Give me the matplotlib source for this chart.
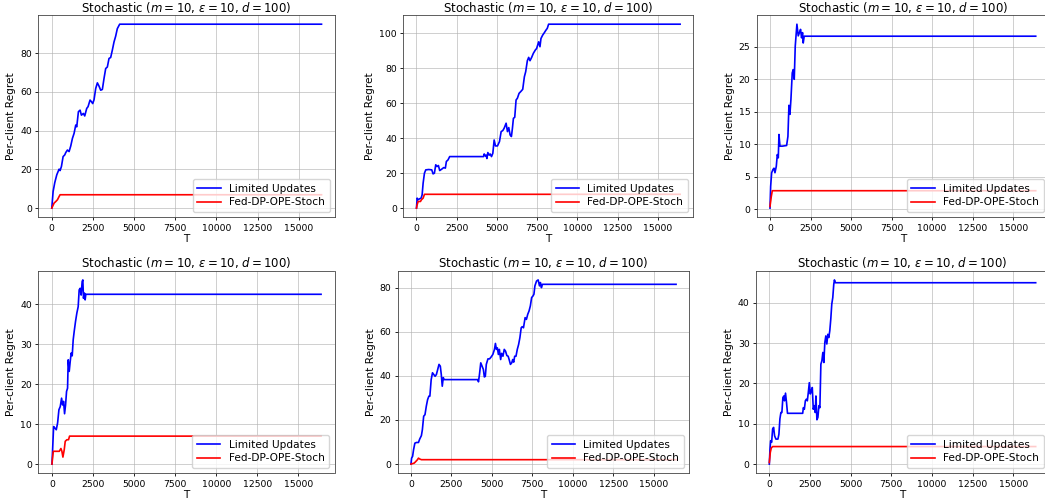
import matplotlib
matplotlib.use("Agg")
import matplotlib.pyplot as plt

T_END = 16384
title = r"Stochastic ($m=10$, $\varepsilon=10$, $d=100$)"

# knots (T, per-client regret); each curve stays flat to T_END
lu1_t = [0, 81, 182, 303, 384, 445, 505, 586, 687, 788, 849, 950, 1051, 1152, 1253, 1354, 1455, 1516,
         1617, 1718, 1799, 1920, 2001, 2122, 2203, 2324, 2405, 2486, 2567, 2668, 2769, 2870, 2971, 3072,
         3173, 3274, 3375, 3476, 3577, 3678, 3779, 3880, 3981, 4123]
lu1_y = [0, 8.6, 13.2, 17.2, 18.9, 20.1, 19.4, 21.5, 26.6, 27.5, 28.7, 30, 29.2, 32.1, 36, 38.6, 42.9, 42,
         49.8, 50.6, 48, 48.9, 47.6, 51.5, 52.4, 55.8, 55, 54, 56, 61.8, 64.7, 63, 60.9, 61.3,
         67, 72.1, 72.9, 77.3, 77.8, 81.6, 85.8, 88.8, 92.7, 95]
fed1_t = [0, 141, 243, 344, 445, 505]
fed1_y = [0, 2.6, 3.4, 4.3, 6.0, 6.9]

lu2_t = [0, 41, 103, 186, 289, 351, 413, 495, 578, 763, 949, 1032, 1114, 1197, 1279, 1362, 1444, 1568,
         1692, 1795, 1857, 1960, 2063, 4167, 4208, 4270, 4332, 4374, 4435, 4518, 4580, 4662, 4745, 4827,
         4910, 5034, 5158, 5261, 5364, 5446, 5570, 5653, 5735, 5818, 5900, 5962, 6024, 6106, 6189, 6271,
         6374, 6478, 6602, 6705, 6787, 6890, 6973, 7055, 7158, 7262, 7385, 7468, 7530, 7592, 7674, 7736,
         7839, 7943, 8046, 8128, 8211]
lu2_y = [0, 5.7, 4.8, 5.3, 5.7, 7.6, 14.3, 20, 21.9, 22.1, 21.9, 19.6, 20, 24.8, 23.8, 24.4, 21.5, 22.3,
         23.2, 22.9, 26.7, 27.6, 29.5, 29.5, 31, 29.9, 30.3, 28.4, 31.8, 30.3, 31, 29.5, 31.4, 39,
         35.6, 35.6, 38.1, 43.8, 44.4, 45.7, 48.6, 43.8, 46.1, 41.9, 41, 45.7, 51.4, 52, 61.9, 62.9,
         65.7, 66.7, 68, 75.2, 78.1, 84.4, 86.3, 84.4, 86.3, 88.6, 90.5, 91.4, 93.3, 95.2, 92.4, 97.1,
         99, 100.4, 101.9, 102.9, 105.3]
fed2_t = [0, 41, 103, 248, 310, 413, 495]
fed2_y = [0, 1.9, 3.8, 3.8, 4.8, 5.7, 7.9]

lu3_t = [0, 41, 102, 184, 246, 307, 389, 451, 512, 553, 615, 758, 1025, 1106, 1168, 1229, 1291, 1373,
         1434, 1496, 1557, 1660, 1742, 1844, 1885, 1947, 2008, 2049, 2110]
lu3_y = [0.15, 3.5, 5.6, 6.1, 6.3, 5.6, 6.6, 8.4, 7.9, 11.5, 9.7, 9.7, 9.8, 11.2, 16, 14.6, 16.9, 21,
         21.5, 20, 25.1, 28.5, 26.7, 27.4, 27.7, 26.4, 27.2, 25.6, 26.65]
fed3_t = [0, 82, 143]
fed3_y = [0.4, 1.96, 2.83]

lu4_t = [0, 40, 101, 182, 263, 344, 424, 505, 586, 647, 707, 768, 829, 889, 950, 990, 1051, 1112, 1172,
         1233, 1293, 1354, 1435, 1516, 1597, 1657, 1718, 1779, 1839, 1880, 1920, 1981, 2021, 2061]
lu4_y = [0, 3.6, 9.4, 9, 8.6, 10.3, 13.6, 14.4, 16.5, 14.8, 15.7, 12.6, 14.8, 18.2, 19, 26.1, 23.2, 25.7,
         27.8, 27.1, 31.1, 33.2, 35.7, 37.8, 39.4, 43.6, 44, 42.3, 45.7, 46.1, 41.5, 42.8, 41.1, 42.5]
fed4_t = [0, 81, 445, 546, 606, 667, 748, 808, 909, 1010, 1071]
fed4_y = [0, 3.2, 3.2, 3.9, 3.2, 1.75, 3.6, 5.7, 6.1, 6.1, 7.0]

lu5_t = [0, 40, 101, 161, 242, 343, 464, 544, 645, 706, 786, 867, 948, 1028, 1109, 1169, 1250, 1331,
         1411, 1492, 1572, 1653, 1734, 1814, 1875, 1935, 1996, 2056, 4133, 4173, 4234, 4314, 4395, 4476,
         4536, 4596, 4657, 4758, 4859, 4959, 5060, 5161, 5221, 5282, 5342, 5403, 5463, 5544, 5604, 5685,
         5766, 5846, 5927, 6008, 6068, 6149, 6229, 6290, 6350, 6411, 6491, 6572, 6653, 6733, 6814, 6874,
         6955, 7056, 7137, 7217, 7298, 7379, 7459, 7540, 7600, 7661, 7762, 7862, 7943, 8003, 8064, 8124]
lu5_y = [0, 2.7, 3.5, 6.5, 9.5, 9.8, 9.8, 11.4, 12.9, 15.6, 21.7, 22.4, 26.2, 29.2, 30.8, 30.8, 38.3, 41.4,
         40.6, 39.8, 40.6, 42.9, 45.2, 44.4, 40.6, 35.3, 39.2, 38.3, 38.3, 37.3, 40.6, 45.9, 44.4, 42.9,
         39.5, 39.8, 45.2, 47.7, 47.7, 48.6, 49.7, 52, 54.7, 52, 52.7, 49.7, 52, 47.4, 50.2, 48.9,
         52, 51.2, 49.2, 48.9, 47.4, 45.2, 45.9, 47.4, 46.2, 48.9, 48.9, 52, 54.2, 57.3, 61.8, 62.3,
         61.8, 66.4, 65.6, 67.9, 69.4, 71.7, 75.5, 76.2, 77, 80.8, 83, 83.5, 80.8, 82.3, 80, 81.5]
fed5_t = [0, 202, 302, 403, 464, 544, 645]
fed5_y = [0, 0.45, 1.2, 2.0, 2.7, 2.3, 2.0]

lu6_t = [0, 41, 81, 142, 203, 264, 325, 407, 529, 590, 651, 712, 773, 834, 894, 935, 996, 1057, 1118,
         2053, 2094, 2155, 2216, 2277, 2338, 2399, 2460, 2521, 2582, 2643, 2704, 2765, 2826, 2867, 2928,
         2989, 3050, 3110, 3171, 3232, 3293, 3354, 3415, 3476, 3537, 3598, 3659, 3720, 3781, 3842, 3903,
         3964, 4005, 4066]
lu6_y = [0, 3.7, 5.8, 5.4, 8.7, 9.1, 7, 6.2, 6.2, 7.4, 11.2, 12.8, 12.8, 16.5, 16.9, 15.7, 17.6, 15.3, 12.6,
         12.6, 14, 13.6, 15.7, 16.1, 15.7, 17.8, 20.2, 17.4, 18.2, 19, 13.6, 14.5, 12.8, 16.9, 11,
         11.6, 14.5, 14, 24.8, 25.6, 27.7, 25.2, 30.2, 31.8, 29.8, 32.2, 31.4, 33.1, 36, 39.7, 41.3,
         44.6, 45.7, 45]
fed6_t = [0, 61, 122, 203]
fed6_y = [0.4, 2.9, 4.0, 4.35]

panels = [
    (lu1_t, lu1_y, fed1_t, fed1_y),
    (lu2_t, lu2_y, fed2_t, fed2_y),
    (lu3_t, lu3_y, fed3_t, fed3_y),
    (lu4_t, lu4_y, fed4_t, fed4_y),
    (lu5_t, lu5_y, fed5_t, fed5_y),
    (lu6_t, lu6_y, fed6_t, fed6_y),
]

boxes = [
    (38.3, 15.0, 335.0, 217.3),
    (403.3, 15.0, 693.3, 217.3),
    (756.7, 15.0, 1049.0, 217.3),
    (38.5, 270.7, 334.5, 473.3),
    (397.7, 270.7, 689.3, 473.3),
    (756.0, 270.7, 1049.0, 473.3),
]

W, H = 1045, 501
fig = plt.figure(figsize=(W / 100, H / 100), dpi=100)

for (lt, ly, ft, fy), (l, t, r, b) in zip(panels, boxes):
    ax = fig.add_axes([l / W, 1 - b / H, (r - l) / W, (b - t) / H])
    ax.plot(lt + [T_END], ly + [ly[-1]], color="blue", lw=1.2, label="Limited Updates")
    ax.plot(ft + [T_END], fy + [fy[-1]], color="red", lw=1.2, label="Fed-DP-OPE-Stoch")
    ax.set_title(title, fontsize=8.5, pad=2.5)
    ax.set_xlabel("T", fontsize=7.6, labelpad=1)
    ax.set_ylabel("Per-client Regret", fontsize=7.6, labelpad=3)
    ax.set_xticks([0, 2500, 5000, 7500, 10000, 12500, 15000])
    ax.tick_params(labelsize=6.7, length=2.5, width=0.6, pad=2)
    ax.grid(True, color="#b0b0b0", lw=0.6, alpha=0.7)
    for s in ax.spines.values():
        s.set_linewidth(0.6)
        s.set_color("#444444")
    ax.legend(loc="lower right", fontsize=7.6, handlelength=2.2, borderpad=0.45, labelspacing=0.35)

fig.savefig("out.png", dpi=100)
